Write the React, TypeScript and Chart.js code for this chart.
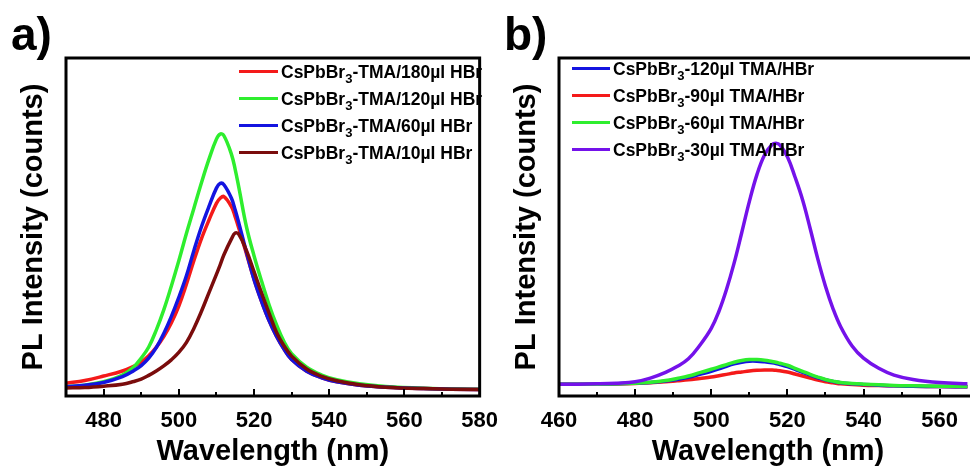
import React, { useEffect, useRef } from 'react';
import { Chart, registerables } from 'chart.js';
Chart.register(...registerables);

const FONT = '"Liberation Sans", Arial, Helvetica, sans-serif';

// ---------- Panel a data ----------
const WAVE_A = [470, 475, 480, 485, 488, 490, 492, 494, 496, 498, 500, 502, 504, 506, 508, 510, 511, 512, 514, 515, 516, 518, 520, 522, 524, 526, 528, 530, 534, 538, 542, 548, 555, 565, 580];
const A_180 = [3.8, 4.6, 5.9, 7.4, 8.8, 10.0, 11.9, 14.4, 17.6, 21.6, 26.6, 33, 40, 46.5, 52, 57, 58.5, 59, 56, 53, 49.5, 42, 34.5, 28, 22.3, 17.6, 13.8, 10.8, 7.3, 5.4, 4.2, 3.2, 2.6, 2.2, 1.9];
const A_120 = [2.7, 3.2, 4.2, 6.2, 8.6, 11.2, 14.5, 19.5, 25.5, 32.5, 40, 48, 55.5, 63, 70, 76, 77.5, 77, 71.5, 67, 61.5, 50, 41.5, 34, 27, 21, 16, 12.5, 8.5, 6.2, 4.8, 3.6, 2.8, 2.3, 2.0];
const A_60 = [2.75, 3.2, 4.0, 5.7, 7.5, 9, 11.2, 14.3, 18.5, 23.5, 29.2, 35.5, 43, 50, 56, 61.5, 62.9, 62.5, 58.5, 55, 51, 42.5, 34.5, 28, 22.3, 17.6, 13.8, 10.8, 7.3, 5.4, 4.2, 3.2, 2.6, 2.2, 1.9];
const A_10 = [2.4, 2.5, 2.9, 3.5, 4.3, 5.0, 6.1, 7.4, 8.9, 10.7, 12.9, 15.8, 20, 25, 30.5, 36, 38.8, 41.8, 46.5, 48.2, 47.8, 43, 36.8, 30.5, 24.5, 18.8, 14.8, 11.8, 8.0, 5.8, 4.5, 3.3, 2.6, 2.2, 1.9];
const TICKS_A = [480, 500, 520, 540, 560, 580];
const MINOR_A = [470, 490, 510, 530, 550, 570];

// ---------- Panel b data ----------
const WAVE_B = [460, 465, 470, 475, 480, 484, 488, 491, 494, 497, 500, 502, 504, 506, 508, 510, 512, 514, 516, 517, 518, 520, 522, 524, 526, 528, 530, 532, 534, 537, 540, 544, 548, 553, 560, 568];
const B_120 = [3.5, 3.5, 3.5, 3.6, 3.8, 4.0, 4.4, 4.9, 5.5, 6.4, 7.3, 8.0, 8.8, 9.5, 10.0, 10.3, 10.3, 10.1, 9.8, 9.6, 9.3, 8.7, 7.9, 7.0, 6.2, 5.4, 4.8, 4.3, 3.9, 3.6, 3.4, 3.2, 3.0, 2.9, 2.8, 2.7];
const B_90 = [3.5, 3.5, 3.5, 3.55, 3.7, 3.9, 4.2, 4.5, 4.8, 5.2, 5.6, 6.0, 6.4, 6.8, 7.1, 7.4, 7.6, 7.7, 7.7, 7.6, 7.5, 7.1, 6.5, 5.9, 5.3, 4.7, 4.2, 3.9, 3.6, 3.4, 3.2, 3.1, 3.0, 2.9, 2.8, 2.7];
const B_60 = [3.5, 3.5, 3.5, 3.6, 3.8, 4.1, 4.6, 5.2, 5.9, 6.9, 7.9, 8.6, 9.3, 10.0, 10.5, 10.8, 10.8, 10.6, 10.2, 10.0, 9.7, 9.1, 8.2, 7.3, 6.4, 5.6, 4.9, 4.4, 4.0, 3.7, 3.5, 3.3, 3.1, 3.0, 2.9, 2.8];
const B_30 = [3.5, 3.5, 3.6, 3.8, 4.2, 5.3, 7.0, 8.7, 11.0, 15.0, 20.0, 25.0, 31.5, 39.3, 48.3, 57.5, 65.5, 71.3, 74.4, 74.8, 74.3, 70.8, 64.8, 58.0, 49.5, 40.5, 32.5, 25.8, 20.5, 14.8, 11.2, 8.2, 6.2, 4.9, 4.0, 3.6];
const TICKS_B = [460, 480, 500, 520, 540, 560];
const MINOR_B = [470, 490, 510, 530, 550];

const RED = '#f41a1a';
const GREEN = '#2eee2e';
const BLUE = '#1414e0';
const DARK = '#7a0c0c';
const PURPLE = '#7412ea';

type Series = { pre: string; sub: string; post: string; color: string; data: number[]; order: number };
type Panel = {
  width: number;
  waves: number[];
  series: Series[];
  xMin: number;
  xMax: number;
  majors: number[];
  minors: number[];
  padLeft: number;
  padRight: number;
  rightBorder: boolean;
  label: string;
  labelX: number;
  yTitleX: number;
  legLine: [number, number];
  legText: number;
  legY0: number;
};

const PANEL_A: Panel = {
  width: 510,
  waves: WAVE_A,
  series: [
    { pre: 'CsPbBr', sub: '3', post: '-TMA/180µl HBr', color: RED, data: A_180, order: 3 },
    { pre: 'CsPbBr', sub: '3', post: '-TMA/120µl HBr', color: GREEN, data: A_120, order: 2 },
    { pre: 'CsPbBr', sub: '3', post: '-TMA/60µl HBr', color: BLUE, data: A_60, order: 1 },
    { pre: 'CsPbBr', sub: '3', post: '-TMA/10µl HBr', color: DARK, data: A_10, order: 0 },
  ],
  xMin: 470,
  xMax: 580,
  majors: TICKS_A,
  minors: MINOR_A,
  padLeft: 66,
  padRight: 26,
  rightBorder: true,
  label: 'a)',
  labelX: 11,
  yTitleX: 42,
  legLine: [239, 278],
  legText: 281,
  legY0: 71.5,
};

const PANEL_B: Panel = {
  width: 480,
  waves: WAVE_B,
  series: [
    { pre: 'CsPbBr', sub: '3', post: '-120µl TMA/HBr', color: BLUE, data: B_120, order: 2 },
    { pre: 'CsPbBr', sub: '3', post: '-90µl TMA/HBr', color: RED, data: B_90, order: 3 },
    { pre: 'CsPbBr', sub: '3', post: '-60µl TMA/HBr', color: GREEN, data: B_60, order: 1 },
    { pre: 'CsPbBr', sub: '3', post: '-30µl TMA/HBr', color: PURPLE, data: B_30, order: 0 },
  ],
  xMin: 460,
  xMax: 567.3,
  majors: TICKS_B,
  minors: MINOR_B,
  padLeft: 69,
  padRight: 0,
  rightBorder: false,
  label: 'b)',
  labelX: 14,
  yTitleX: 45,
  legLine: [82, 120],
  legText: 123,
  legY0: 68.5,
};

function decorPlugin(p: Panel) {
  return {
    id: 'decor',
    afterDatasetsDraw(chart: any) {
      const { ctx, chartArea: a, scales } = chart;
      const x = scales.x;
      ctx.save();
      ctx.strokeStyle = '#000';
      ctx.lineWidth = 3;
      ctx.lineCap = 'square';
      ctx.beginPath();
      ctx.moveTo(a.left, a.top);
      ctx.lineTo(a.left, a.bottom);
      ctx.lineTo(a.right + (p.rightBorder ? 0 : 5), a.bottom);
      ctx.moveTo(a.left, a.top);
      ctx.lineTo(a.right + (p.rightBorder ? 0 : 5), a.top);
      if (p.rightBorder) {
        ctx.moveTo(a.right, a.top);
        ctx.lineTo(a.right, a.bottom);
      }
      ctx.stroke();
      ctx.lineWidth = 2;
      ctx.lineCap = 'butt';
      ctx.beginPath();
      p.majors.forEach((v) => {
        const px = Math.round(x.getPixelForValue(v));
        ctx.moveTo(px, a.bottom);
        ctx.lineTo(px, a.bottom - 7);
      });
      p.minors.forEach((v) => {
        const px = Math.round(x.getPixelForValue(v));
        ctx.moveTo(px, a.bottom);
        ctx.lineTo(px, a.bottom - 4);
      });
      ctx.stroke();
      ctx.restore();
    },
    afterDraw(chart: any) {
      const { ctx, chartArea: a } = chart;
      ctx.save();
      ctx.fillStyle = '#000';
      ctx.font = `bold 46px ${FONT}`;
      ctx.textAlign = 'left';
      ctx.textBaseline = 'alphabetic';
      ctx.fillText(p.label, p.labelX, 50);
      ctx.font = `bold 29px ${FONT}`;
      ctx.textAlign = 'center';
      const cx = p.rightBorder ? (a.left + a.right) / 2 : a.left + (275 - 66);
      ctx.fillText('Wavelength (nm)', cx, 460);
      ctx.save();
      ctx.translate(p.yTitleX, (a.top + a.bottom) / 2);
      ctx.rotate(-Math.PI / 2);
      ctx.fillText('PL Intensity (counts)', 0, 0);
      ctx.restore();
      p.series.forEach((s, i) => {
        const y = p.legY0 + i * 27;
        ctx.strokeStyle = s.color;
        ctx.lineWidth = 3;
        ctx.beginPath();
        ctx.moveTo(p.legLine[0], y);
        ctx.lineTo(p.legLine[1], y);
        ctx.stroke();
        ctx.textAlign = 'left';
        ctx.font = `bold 17.5px ${FONT}`;
        let tx = p.legText;
        ctx.fillText(s.pre, tx, y + 6.5);
        tx += ctx.measureText(s.pre).width;
        ctx.font = `bold 13px ${FONT}`;
        ctx.fillText(s.sub, tx, y + 11.5);
        tx += ctx.measureText(s.sub).width;
        ctx.font = `bold 17.5px ${FONT}`;
        ctx.fillText(s.post, tx, y + 6.5);
      });
      ctx.restore();
    },
  };
}

function makeChart(canvas: HTMLCanvasElement, p: Panel) {
  return new Chart(canvas, {
    type: 'line',
    data: {
      datasets: p.series.map((s) => ({
        label: s.pre + s.sub + s.post,
        data: p.waves.map((w, i) => ({ x: w, y: s.data[i] })),
        borderColor: s.color,
        backgroundColor: s.color,
        borderWidth: 3.5,
        pointRadius: 0,
        fill: false,
        tension: 0.4,
        borderJoinStyle: 'round',
        order: s.order,
      })),
    },
    options: {
      animation: false,
      responsive: false,
      maintainAspectRatio: false,
      layout: { padding: { left: p.padLeft, right: p.padRight, top: 58, bottom: 0 } },
      plugins: { legend: { display: false }, tooltip: { enabled: false } },
      events: [],
      scales: {
        x: {
          type: 'linear',
          min: p.xMin,
          max: p.xMax,
          grid: { display: false, drawTicks: false },
          border: { display: false },
          ticks: {
            font: { family: FONT, size: 22, weight: 'bold' },
            color: '#000',
            padding: 12,
            maxRotation: 0,
            autoSkip: false,
          },
          afterBuildTicks: (s: any) => {
            s.ticks = p.majors.map((v) => ({ value: v }));
          },
          afterFit: (s: any) => {
            s.height = 72;
          },
        },
        y: { display: false, min: 0, max: 100 },
      },
    } as any,
    plugins: [decorPlugin(p)],
  });
}

export default function App() {
  const refA = useRef<HTMLCanvasElement>(null);
  const refB = useRef<HTMLCanvasElement>(null);
  useEffect(() => {
    const ca = makeChart(refA.current!, PANEL_A);
    const cb = makeChart(refB.current!, PANEL_B);
    return () => {
      ca.destroy();
      cb.destroy();
    };
  }, []);
  return (
    <div style={{ position: 'absolute', left: 0, top: 0, width: 970, height: 468, overflow: 'hidden', background: '#fff' }}>
      <div style={{ position: 'absolute', left: 0, top: 0, width: 510, height: 468 }}>
        <canvas ref={refA} width={510} height={468} style={{ display: 'block' }} />
      </div>
      <div style={{ position: 'absolute', left: 490, top: 0, width: 480, height: 468 }}>
        <canvas ref={refB} width={480} height={468} style={{ display: 'block' }} />
      </div>
    </div>
  );
}
